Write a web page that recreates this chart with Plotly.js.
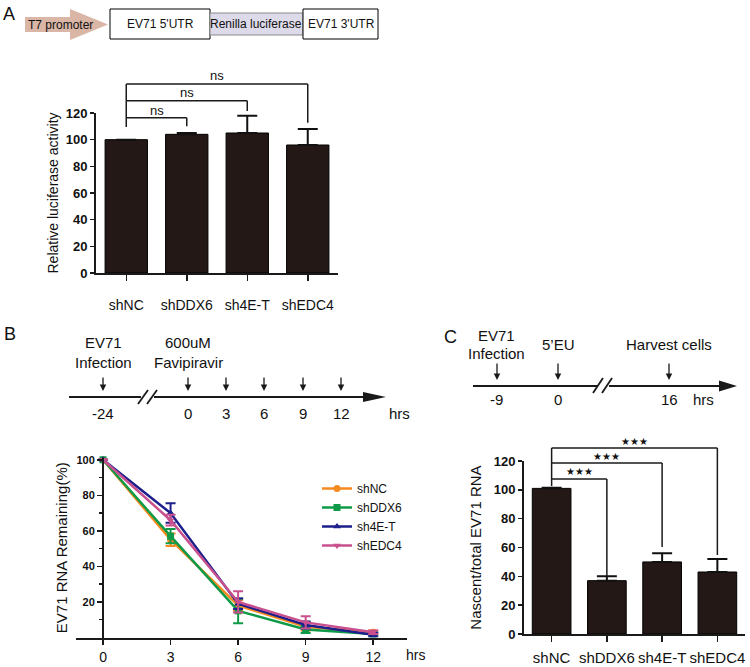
<!DOCTYPE html>
<html><head><meta charset="utf-8">
<script src="https://cdn.plot.ly/plotly-3.0.1.min.js"></script>
<style>html,body{margin:0;padding:0;background:#fff}</style>
</head><body><div id="chart" style="width:750px;height:667px"></div>
<script>
// ---------- DATA ----------
// Panel A
const catsA = ['shNC', 'shDDX6', 'sh4E-T', 'shEDC4'];
const valsA = [100, 104, 105, 96];
const errA = [0, 1, 13, 12];
const yTicksA = [0, 20, 40, 60, 80, 100, 120];

// Panel B
const hoursB = [0, 3, 6, 9, 12];
const namesB = ['shNC', 'shDDX6', 'sh4E-T', 'shEDC4'];
const shNC = [100, 55, 18, 6, 3];
const shNC_err = [0, 3.5, 3, 2, 1];
const shDDX6 = [100, 57, 15, 4.5, 2];
const shDDX6_err = [0, 4, 7, 2, 1];
const sh4ET = [100, 70, 19, 7, 1.5];
const sh4ET_err = [0, 5.5, 3, 2, 1];
const shEDC4 = [100, 66, 20, 8.5, 3];
const shEDC4_err = [0, 3, 6, 3.5, 1];
const yTicksB = [20, 40, 60, 80, 100];
const yMinorB = [10, 30, 50, 70, 90];
const xTicksB = [0, 3, 6, 9, 12];

// Panel C
const catsC = ['shNC', 'shDDX6', 'sh4E-T', 'shEDC4'];
const valsC = [101, 37, 50, 43];
const errC = [0.5, 3, 6, 9];
const yTicksC = [0, 20, 40, 60, 80, 100, 120];

// Timelines
const timeB = ['-24', '0', '3', '6', '9', '12'];
const timeC = ['-9', '0', '16'];

// ---------- HELPERS ----------
const W = 750, H = 667;
const FONT = 'Liberation Sans, Arial, sans-serif';
const px = x => x / W;
const py = y => 1 - y / H;
const BAR = '#231815';
const INK = '#1a1a1a';

const shapes = [];
const annotations = [];

function pline(x0, y0, x1, y1, w) {
  shapes.push({type: 'line', xref: 'paper', yref: 'paper', x0: px(x0), y0: py(y0), x1: px(x1), y1: py(y1),
    line: {color: INK, width: w || 2}});
}
function ppath(pts, fill, lc, lw) {
  const d = pts.map((p, i) => (i ? 'L' : 'M') + px(p[0]) + ',' + py(p[1])).join(' ') + ' Z';
  shapes.push({type: 'path', xref: 'paper', yref: 'paper', path: d, fillcolor: fill,
    line: {color: lc || fill, width: lw || 0}});
}
function prect(x0, y0, x1, y1, fill, lc) {
  shapes.push({type: 'rect', xref: 'paper', yref: 'paper', x0: px(x0), y0: py(y0), x1: px(x1), y1: py(y1),
    fillcolor: fill, line: {color: lc || '#000', width: 1}});
}
function ptext(x, y, t, size, extra) {
  annotations.push(Object.assign({xref: 'paper', yref: 'paper', x: px(x), y: py(y), text: t, showarrow: false,
    xanchor: 'center', yanchor: 'middle', font: {family: FONT, size: size || 15, color: '#111'}}, extra || {}));
}
function darrow(x, yTail, yTip) {
  annotations.push({xref: 'paper', yref: 'paper', x: px(x), y: py(yTip), ax: 0, ay: -(yTip - yTail), text: '',
    showarrow: true, arrowhead: 2, arrowsize: 1, arrowwidth: 1.3, arrowcolor: INK, standoff: 0, startstandoff: 0});
}

// ---------- PANEL A schematic ----------
ptext(9, 14, 'A', 18);
ppath([[25, 17], [70, 17], [70, 9], [108, 24.5], [70, 40], [70, 32], [25, 32]], '#d9b6a6');
prect(110, 9, 210, 39, '#ffffff');
prect(210, 13, 303, 35, '#dddaea', '#888');
prect(303, 9, 378, 39, '#ffffff');
ptext(60, 24.5, 'T7 promoter', 12);
ptext(160, 24, "EV71 5'UTR", 12);
ptext(256, 24, 'Renilla luciferase', 12);
ptext(341, 24, "EV71 3'UTR", 12);

// ---------- significance brackets ----------
function brackets(xa, ya, ymax, list, leftTop, leftBottom, label, lsize) {
  const yd = v => v / ymax;
  shapes.push({type: 'line', xref: xa, yref: ya + ' domain', x0: 0, x1: 0, y0: yd(leftBottom), y1: yd(leftTop),
    line: {color: INK, width: 1.5}});
  list.forEach(b => {
    shapes.push({type: 'line', xref: xa, yref: ya + ' domain', x0: 0, x1: b.to, y0: yd(b.y), y1: yd(b.y),
      line: {color: INK, width: 1.5}});
    shapes.push({type: 'line', xref: xa, yref: ya + ' domain', x0: b.to, x1: b.to, y0: yd(b.leg), y1: yd(b.y),
      line: {color: INK, width: 1.5}});
    annotations.push({xref: xa, yref: ya + ' domain', x: b.to / 2, y: yd(b.ty), text: label, showarrow: false,
      xanchor: 'center', yanchor: 'middle', font: {family: FONT, size: lsize, color: '#111'}});
  });
}
brackets('x', 'y', 120, [
  {to: 1, y: 116.5, leg: 110, ty: 122},
  {to: 2, y: 129.2, leg: 121.5, ty: 135},
  {to: 3, y: 141.8, leg: 112.7, ty: 148}
], 141.8, 109.5, 'ns', 13);
brackets('x3', 'y3', 120, [
  {to: 1, y: 107.5, leg: 40.2, ty: 113},
  {to: 2, y: 118.6, leg: 60.3, ty: 123},
  {to: 3, y: 129, leg: 54.8, ty: 133.3}
], 129, 102.6, '\u2605\u2605\u2605', 10);

// ---------- PANEL B timeline ----------
ptext(10, 334, 'B', 18);
pline(69, 397, 141, 397);
pline(154, 397, 366, 397);
ppath([[363, 392], [386, 397], [363, 402]], INK);
pline(138, 404, 148, 390, 1.8);
pline(147, 404, 157, 390, 1.8);
const xsB = [103, 188, 226, 264, 303, 341];
xsB.forEach((x, i) => { darrow(x, 376, 391); ptext(x, 413, timeB[i], 15); });
ptext(399, 413, 'hrs', 15);
ptext(103, 343, 'EV71', 15);
ptext(103, 362, 'Infection', 15);
ptext(188, 343, '600uM', 15);
ptext(188, 362, 'Favipiravir', 15);

// ---------- PANEL C timeline ----------
ptext(450, 337, 'C', 18);
pline(473, 386, 598, 386);
pline(609, 386, 722, 386);
ppath([[719, 380.5], [737, 386], [719, 391.5]], INK);
pline(593, 393, 603, 378, 1.8);
pline(602, 393, 612, 378, 1.8);
const xsC = [497, 558, 669];
xsC.forEach((x, i) => { darrow(x, 362, 380); ptext(x, 399, timeC[i], 15); });
ptext(703, 399, 'hrs', 15);
ptext(497, 335, 'EV71', 15);
ptext(497, 353, 'Infection', 15);
ptext(558, 344, '5\u2019EU', 15);
ptext(669, 344, 'Harvest cells', 15);

// B chart "hrs"
ptext(415, 655, 'hrs', 14);

// ---------- TRACES ----------
const zeros = n => new Array(n).fill(0);
const traces = [];
traces.push({type: 'bar', x: catsA, y: valsA, xaxis: 'x', yaxis: 'y', width: 0.7, showlegend: false,
  marker: {color: BAR, line: {color: '#000', width: 1}},
  error_y: {type: 'data', array: errA, arrayminus: zeros(errA.length), symmetric: false, color: '#111', thickness: 2, width: 10}});

const colorsB = ['#f58a1f', '#0f9a48', '#1c1f8c', '#c9508f'];
const symbolsB = ['circle', 'square', 'triangle-up', 'triangle-down'];
const dataB = [shNC, shDDX6, sh4ET, shEDC4];
const errB = [shNC_err, shDDX6_err, sh4ET_err, shEDC4_err];
namesB.forEach((n, i) => {
  traces.push({type: 'scatter', mode: 'lines+markers', name: n, x: hoursB, y: dataB[i], xaxis: 'x2', yaxis: 'y2',
    cliponaxis: false,
    line: {color: colorsB[i], width: 2.5},
    marker: {color: colorsB[i], symbol: symbolsB[i], size: 7},
    error_y: {type: 'data', array: errB[i], color: colorsB[i], thickness: 2, width: 5}});
});

traces.push({type: 'bar', x: catsC, y: valsC, xaxis: 'x3', yaxis: 'y3', width: 0.7, showlegend: false,
  marker: {color: BAR, line: {color: '#000', width: 1}},
  error_y: {type: 'data', array: errC, arrayminus: zeros(errC.length), symmetric: false, color: '#111', thickness: 2, width: 10}});

// ---------- LAYOUT ----------
const tickBold = s => ({family: FONT, size: s, color: '#111', weight: 'bold'});
const tickReg = s => ({family: FONT, size: s, color: '#111'});
const layout = {
  width: W, height: H, margin: {l: 0, r: 0, t: 0, b: 0},
  paper_bgcolor: '#fff', plot_bgcolor: 'rgba(0,0,0,0)',
  font: {family: FONT, color: '#111'},
  showlegend: true,
  legend: {x: px(317), y: py(474), xanchor: 'left', yanchor: 'top', font: {family: FONT, size: 12, color: '#111'},
    bgcolor: 'rgba(0,0,0,0)', tracegroupgap: 0},
  xaxis: {domain: [px(96), px(338)], range: [-0.5, 3.5], anchor: 'y', type: 'category',
    showline: true, linewidth: 2, linecolor: INK, ticks: 'outside', ticklen: 6, tickwidth: 1.5, tickcolor: INK,
    tickfont: tickReg(14), ticklabelstandoff: 12, showgrid: false, zeroline: false, fixedrange: true},
  yaxis: {domain: [py(273), py(113)], range: [0, 120], anchor: 'x', tickvals: yTicksA,
    showline: true, linewidth: 2, linecolor: INK, ticks: 'outside', ticklen: 4, tickwidth: 1.5, tickcolor: INK,
    tickfont: tickBold(13), showgrid: false, zeroline: false,
    title: {text: 'Relative luciferase activity', font: {family: FONT, size: 14, color: '#111'}, standoff: 4}},
  xaxis2: {domain: [px(76), px(407)], range: [-1.2, 13.5], anchor: 'y2', tickvals: xTicksB,
    showline: true, linewidth: 2, linecolor: INK, ticks: 'outside', ticklen: 5, tickwidth: 1.5, tickcolor: INK,
    tickfont: tickReg(14), ticklabelstandoff: 1, showgrid: false, zeroline: false},
  yaxis2: {domain: [py(637.5), py(458)], range: [0, 101], anchor: 'free', position: px(103), tickvals: yTicksB,
    showline: true, linewidth: 2, linecolor: INK, ticks: 'outside', ticklen: 5, tickwidth: 1.5, tickcolor: INK,
    minor: {tickvals: yMinorB, ticks: 'outside', ticklen: 3, tickwidth: 1.5, tickcolor: INK, showgrid: false},
    tickfont: tickBold(11), showgrid: false, zeroline: false,
    title: {text: 'EV71 RNA Remaining(%)', font: {family: FONT, size: 15, color: '#111'}, standoff: 4}},
  xaxis3: {domain: [px(524), px(745)], range: [-0.5, 3.5], anchor: 'y3', type: 'category',
    showline: true, linewidth: 2, linecolor: INK, ticks: 'outside', ticklen: 6, tickwidth: 1.5, tickcolor: INK,
    tickfont: tickReg(15), ticklabelstandoff: 3, showgrid: false, zeroline: false},
  yaxis3: {domain: [py(634), py(461)], range: [0, 120], anchor: 'x3', tickvals: yTicksC,
    showline: true, linewidth: 2, linecolor: INK, ticks: 'outside', ticklen: 4, tickwidth: 1.5, tickcolor: INK,
    tickfont: tickBold(13), showgrid: false, zeroline: false,
    title: {text: 'Nascent/total EV71 RNA', font: {family: FONT, size: 15, color: '#111'}, standoff: 8}},
  shapes: shapes,
  annotations: annotations
};

Plotly.newPlot('chart', traces, layout, {staticPlot: true, displayModeBar: false});
</script>
</body></html>
